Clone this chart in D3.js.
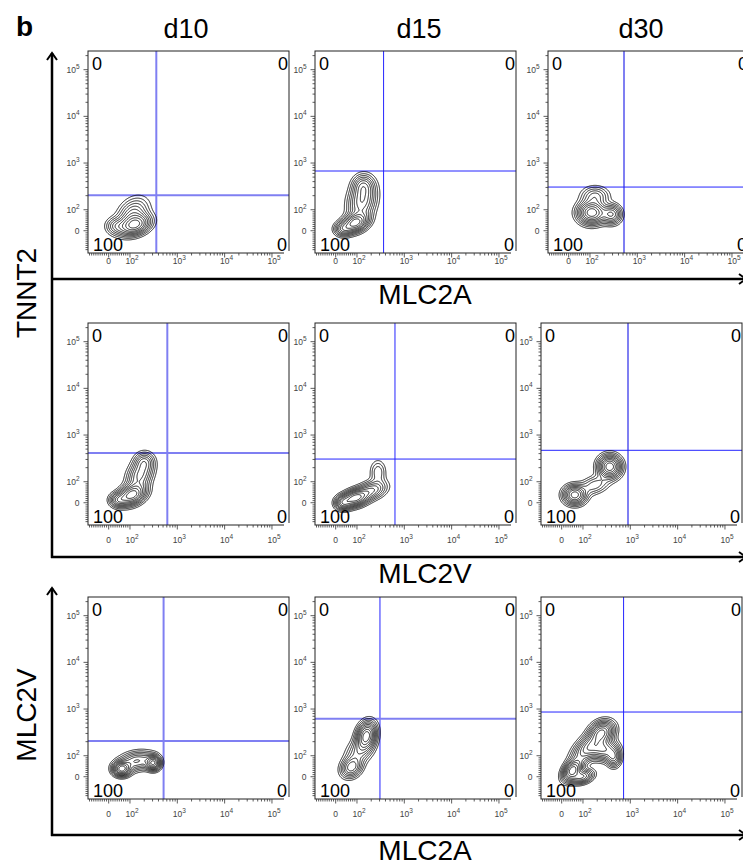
<!DOCTYPE html>
<html><head><meta charset="utf-8">
<script src="https://cdn.jsdelivr.net/npm/d3@7"></script>
<style>
body{margin:0;background:#fff}
svg{display:block}
text{font-family:"Liberation Sans",Arial,Helvetica,sans-serif}
</style>
</head><body>
<svg id="chart" width="743" height="865"></svg>
<script>
// ---------- data ----------
const columns = ["d10", "d15", "d30"];
const xTitles = ["MLC2A", "MLC2V", "MLC2A"];
const yTitles = ["TNNT2", "MLC2V"];
// quadrant percentages per panel (row-major: r1 d10,d15,d30, r2 ..., r3 ...)
const qUL = ["0","0","0","0","0","0","0","0","0"];
const qUR = ["0","0","0","0","0","0","0","0","0"];
const qLL = ["100","100","100","100","100","100","100","100","100"];
const qLR = ["0","0","0","0","0","0","0","0","0"];
// quadrant gate positions (fluorescence units)
const gateX = [360, 365, 523, 615, 635, 893, 513, 306, 721];
const gateY = [204, 675, 306, 412, 306, 471, 207, 620, 863];
const gateStyleX = ["thick","thin","thick","thick","thin","thick","thick","thin","thin"];
const gateStyleY = ["thick","thin","thin","thick","thin","thin","thick","thick","thin"];
// axis ticks
const majorTicks = [0, 100, 1000, 10000, 100000];
const tickBase = ["0", "10", "10", "10", "10"];
const tickExp = ["", "2", "3", "4", "5"];
// cell sub-populations per panel: centres (fluorescence units), spreads (decades), weights, correlation
const popX  = [[128,115,34],[91,128,135,34],[109,288,128],
               [109,163,200,44],[91,208,278,34],[61,367,177],
               [61,311,141],[158,74,114],[50,252,273,444,95,130]];
const popY  = [[27,80,22],[37,154,330,8],[86,78,197],
               [37,139,270,13],[22,60,161,-1],[37,210,84],
               [37,65,75],[268,45,126],[30,317,135,92,0,150]];
const popSX = [[.19,.19,.13],[.16,.17,.13,.11],[.17,.12,.17],
               [.17,.16,.12,.11],[.17,.18,.1,.1],[.14,.14,.18],
               [.11,.09,.22],[.12,.13,.17],[.12,.15,.17,.09,.14,.2]];
const popSY = [[.13,.2,.11],[.12,.24,.14,.09],[.14,.12,.12],
               [.13,.2,.12,.09],[.11,.12,.15,.09],[.12,.14,.12],
               [.09,.09,.12],[.17,.13,.17],[.13,.14,.13,.12,.09,.2]];
const popW  = [[1,.45,.3],[1,.6,.35,.4],[1,.55,.3],
               [1,.5,.3,.4],[1,.45,.2,.5],[.8,1,.25],
               [1,.9,.5],[1,.55,.3],[1,.85,.7,.5,.6,.65]];
const popR  = [[.3,.3,0],[.3,.2,0,0],[0,0,0],
               [.3,.3,0,0],[.3,.3,0,0],[0,0,.3],
               [0,0,.2],[.2,.2,.3],[.4,.2,0,0,.3,.6]];
const contourLevels = [0.05, 0.09, 0.14, 0.2, 0.27, 0.35, 0.45, 0.56, 0.7, 0.85];

// ---------- layout ----------
const PW = 201, PH = 202;
const rowTop = [51, 323, 597];
const colLeft = [[88, 315, 548], [88, 315, 541], [88, 315, 541]];
const labelOffset = [11, 18, 18];

// biexponential-like display transform: log above 100, linear below
const T = v => v >= 100 ? Math.log10(v) : 1.55 + 0.45 * v / 100;
const xl = d3.scaleLinear().domain([1.113, 5.36]).range([0, PW]);
const yl = d3.scaleLinear().domain([1.073, 5.40]).range([PH, 0]);
const xs = v => xl(T(v));
const ys = v => yl(T(v));

const minorTicks = [];
d3.range(-90, 100, 10).forEach(v => { if (v !== 0) minorTicks.push(v); });
[100, 1000, 10000].forEach(d => d3.range(2, 10).forEach(m => minorTicks.push(m * d)));
minorTicks.push(200000);

const svg = d3.select("#chart");
const gateStyle = {thick: {c: "#7f7ff2", w: 2}, thin: {c: "#2424ff", w: 1}};

function drawPanel(k, r, c) {
  const g = svg.append("g").attr("transform", `translate(${colLeft[r][c]},${rowTop[r]})`);
  // gates
  const sx = gateStyle[gateStyleX[k]], sy = gateStyle[gateStyleY[k]];
  g.append("line").attr("x1", xs(gateX[k])).attr("x2", xs(gateX[k])).attr("y1", 0).attr("y2", PH)
    .attr("stroke", sx.c).attr("stroke-width", sx.w);
  g.append("line").attr("x1", 0).attr("x2", PW).attr("y1", ys(gateY[k])).attr("y2", ys(gateY[k]))
    .attr("stroke", sy.c).attr("stroke-width", sy.w);

  // density field
  const comps = popX[k].map((_, i) => ({
    cx: T(popX[k][i]), cy: T(popY[k][i]), sx: popSX[k][i], sy: popSY[k][i],
    w: popW[k][i], r: popR[k][i]
  }));
  const vals = new Float64Array(PW * PH);
  let max = 0;
  for (let j = 0; j < PH; j++) {
    const ty = yl.invert(j + 0.5);
    for (let i = 0; i < PW; i++) {
      const tx = xl.invert(i + 0.5);
      let d = 0;
      for (const p of comps) {
        const a = (tx - p.cx) / p.sx, b = (ty - p.cy) / p.sy;
        const q = (a * a + b * b - 2 * p.r * a * b) / (1 - p.r * p.r);
        d += p.w * Math.exp(-0.5 * q);
      }
      vals[j * PW + i] = d;
      if (d > max) max = d;
    }
  }
  const cs = d3.contours().size([PW, PH]).thresholds(contourLevels.map(l => l * max))(vals);
  g.append("g").selectAll("path").data(cs).join("path")
    .attr("d", d3.geoPath())
    .attr("fill", "none").attr("stroke", "#000").attr("stroke-width", 0.85)
    .attr("stroke-linejoin", "round");

  // frame
  g.append("rect").attr("width", PW).attr("height", PH)
    .attr("fill", "none").attr("stroke", "#222").attr("stroke-width", 1);

  // ticks
  const tg = g.append("g").attr("stroke", "#333").attr("stroke-width", 0.8);
  minorTicks.forEach(v => {
    const x = xs(v), y = ys(v);
    if (x >= 0 && x <= PW) tg.append("line").attr("x1", x).attr("x2", x).attr("y1", PH).attr("y2", PH + 2.5);
    if (y >= 0 && y <= PH) tg.append("line").attr("y1", y).attr("y2", y).attr("x1", 0).attr("x2", -2.5);
  });
  majorTicks.forEach(v => {
    tg.append("line").attr("x1", xs(v)).attr("x2", xs(v)).attr("y1", PH).attr("y2", PH + 4.5);
    tg.append("line").attr("y1", ys(v)).attr("y2", ys(v)).attr("x1", 0).attr("x2", -4.5);
  });
  majorTicks.forEach((v, i) => {
    const tx = g.append("text").attr("x", xs(v) + (i ? 2 : 0)).attr("y", PH + labelOffset[r])
      .attr("text-anchor", "middle").attr("font-size", 8.5).attr("fill", "#444").text(tickBase[i]);
    if (tickExp[i]) tx.append("tspan").attr("font-size", 6.5).attr("dy", -4).text(tickExp[i]);
    const ty = g.append("text").attr("x", -8.5).attr("y", ys(v) + 3)
      .attr("text-anchor", "end").attr("font-size", 8.5).attr("fill", "#444").text(tickBase[i]);
    if (tickExp[i]) ty.append("tspan").attr("font-size", 6.5).attr("dy", -4).text(tickExp[i]);
  });

  // quadrant labels
  g.append("rect").attr("x", PW - 5).attr("y", PH - 2).attr("width", 8).attr("height", 6).attr("fill", "#fff");
  const q = (txt, x, y, anchor) => g.append("text").attr("x", x).attr("y", y)
    .attr("text-anchor", anchor).attr("font-size", 18).attr("fill", "#000").text(txt);
  q(qUL[k], 4, 19, "start");
  q(qUR[k], PW - 1, 19, "end");
  q(qLL[k], 5, PH - 2, "start");
  q(qLR[k], PW - 2, PH - 2, "end");
}

for (let r = 0; r < 3; r++) for (let c = 0; c < 3; c++) drawPanel(r * 3 + c, r, c);

// ---------- big axes ----------
const ax = svg.append("g").attr("stroke", "#000").attr("stroke-width", 2.5).attr("fill", "none");
const arrowUp = (x, y) => ax.append("path").attr("d", `M${x - 5},${y + 7}L${x},${y}L${x + 5},${y + 7}`).attr("stroke-width", 2);
const arrowRight = (x, y) => ax.append("path").attr("d", `M${x - 7},${y - 5}L${x},${y}L${x - 7},${y + 5}`).attr("stroke-width", 2);
ax.append("line").attr("x1", 52).attr("x2", 52).attr("y1", 53).attr("y2", 558);
arrowUp(52, 53);
ax.append("line").attr("x1", 51).attr("x2", 746).attr("y1", 279).attr("y2", 279);
arrowRight(746, 279);
ax.append("line").attr("x1", 51).attr("x2", 746).attr("y1", 557).attr("y2", 557);
arrowRight(746, 557);
ax.append("line").attr("x1", 52).attr("x2", 52).attr("y1", 588).attr("y2", 836);
arrowUp(52, 588);
ax.append("line").attr("x1", 51).attr("x2", 746).attr("y1", 835).attr("y2", 835);
arrowRight(746, 835);

// ---------- titles ----------
svg.append("text").attr("x", 16).attr("y", 36).attr("font-size", 28).attr("font-weight", "bold").text("b");
const colCenter = [186, 419, 641];
columns.forEach((t, i) => svg.append("text").attr("x", colCenter[i]).attr("y", 38)
  .attr("text-anchor", "middle").attr("font-size", 27).text(t));
const xTitleY = [304, 583, 860];
xTitles.forEach((t, i) => svg.append("text").attr("x", 425).attr("y", xTitleY[i])
  .attr("text-anchor", "middle").attr("font-size", 28).text(t));
const yTitleY = [293, 715];
yTitles.forEach((t, i) => svg.append("text")
  .attr("transform", `translate(36,${yTitleY[i]}) rotate(-90)`)
  .attr("text-anchor", "middle").attr("font-size", 28).text(t));
</script>
</body></html>
